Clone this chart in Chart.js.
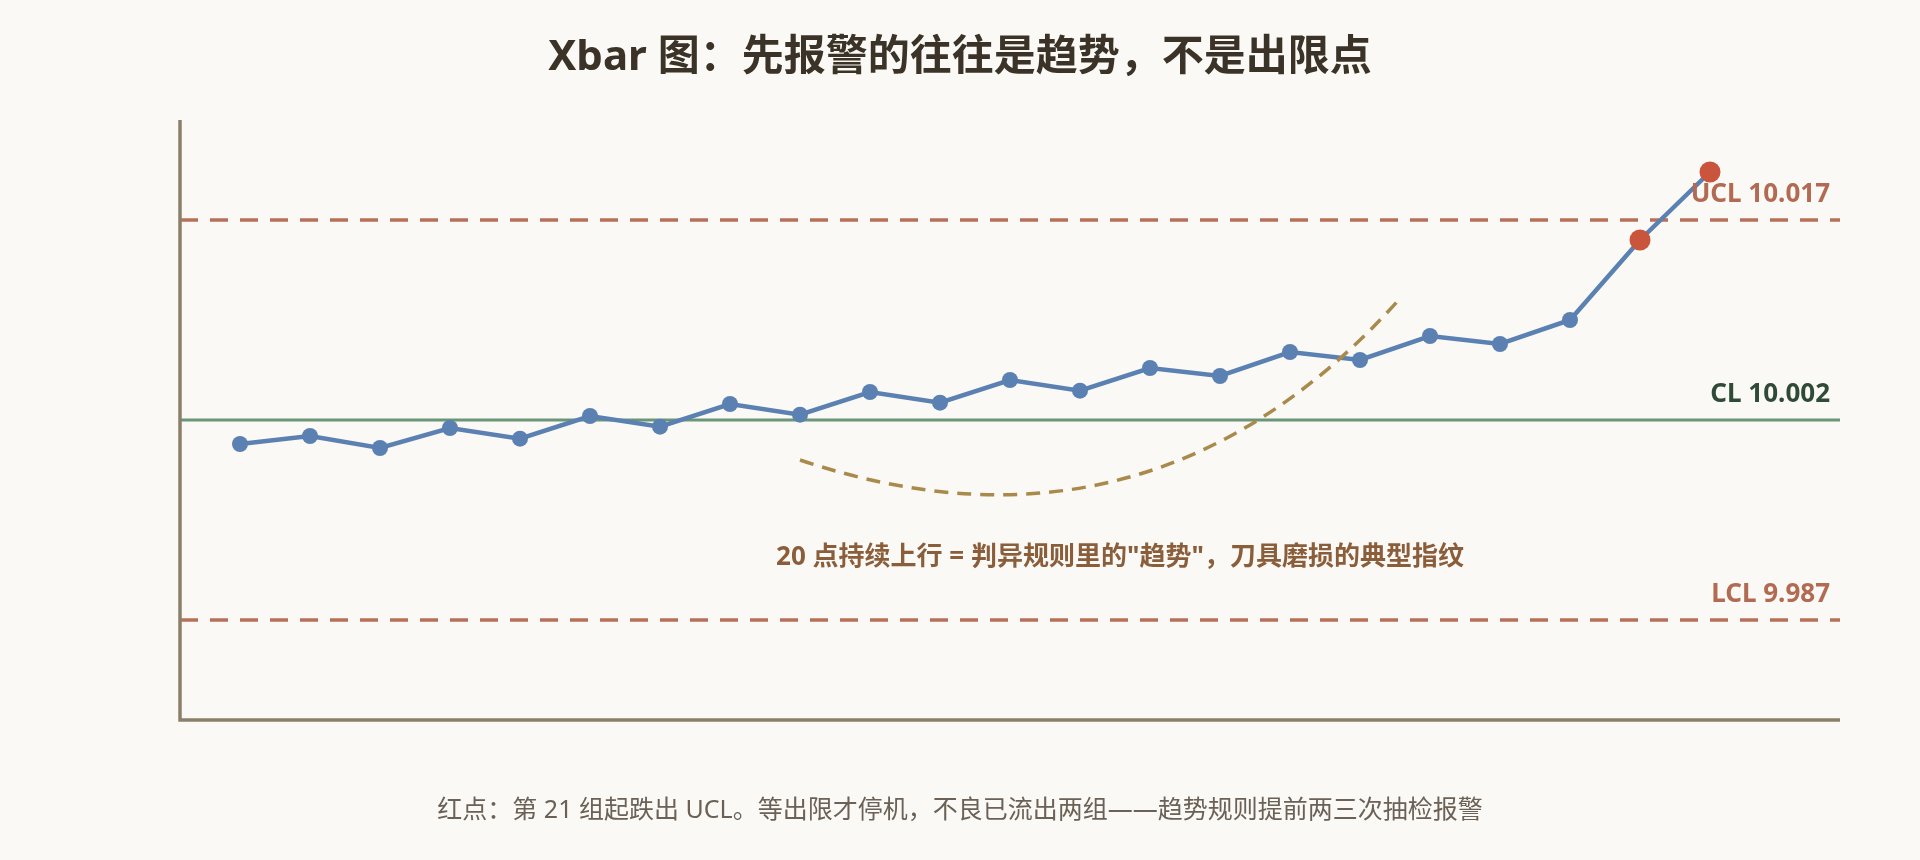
<!DOCTYPE html>
<html>
<head>
<meta charset="utf-8">
<script src="https://cdn.jsdelivr.net/npm/chart.js@4/dist/chart.umd.min.js"></script>
<style>
  html, body { margin: 0; padding: 0; background: #faf9f5; }
  #wrap { width: 1920px; height: 860px; position: relative; }
</style>
</head>
<body>
<div id="wrap"><canvas id="c"></canvas></div>
<script>
// ---- data ----
const groups = [1, 2, 3, 4, 5, 6, 7, 8, 9, 10, 11, 12, 13, 14, 15, 16, 17, 18, 19, 20, 21, 22];
const xbarValues = [10.0002, 10.0008, 9.9999, 10.0014, 10.0006, 10.0023, 10.0015, 10.0032, 10.0024, 10.0041, 10.0033,
                    10.0050, 10.0042, 10.0059, 10.0053, 10.0071, 10.0065, 10.0083, 10.0077, 10.0095, 10.0155, 10.0206];
const alarmGroups = [21, 22];
const UCL = 10.017;
const CL = 10.002;
const LCL = 9.987;
const limitLabels = ['UCL 10.017', 'CL 10.002', 'LCL 9.987'];
const trendCurveX = [9, 14, 17.57];          // start, control, end (group units)
const trendCurveY = [9.999, 9.9902, 10.0111]; // start, control, end (value units)
const titleText = 'Xbar 图：先报警的往往是趋势，不是出限点';
const noteText = '20 点持续上行 = 判异规则里的"趋势"，刀具磨损的典型指纹';
const captionText = '红点：第 21 组起跌出 UCL。等出限才停机，不良已流出两组——趋势规则提前两三次抽检报警';

const points = groups.map((g, i) => ({ x: g, y: xbarValues[i] }));
const isAlarm = (ctx) => alarmGroups.includes(groups[ctx.dataIndex]);

const FONT = '"Noto Sans", "Noto Sans CJK SC", sans-serif';

const decor = {
  id: 'decor',
  beforeDatasetsDraw(chart) {
    const { ctx, chartArea: a, scales: { y } } = chart;
    ctx.save();
    const lines = [
      { v: UCL, color: '#b8705a', dash: [18, 12], w: 3.5 },
      { v: CL, color: '#6a9677', dash: [], w: 3 },
      { v: LCL, color: '#b8705a', dash: [18, 12], w: 3.5 },
    ];
    lines.forEach(l => {
      const py = y.getPixelForValue(l.v);
      ctx.beginPath();
      ctx.setLineDash(l.dash);
      ctx.lineWidth = l.w;
      ctx.strokeStyle = l.color;
      ctx.moveTo(a.left, py);
      ctx.lineTo(a.right, py);
      ctx.stroke();
    });
    ctx.setLineDash([]);
    ctx.strokeStyle = '#8a7f6b';
    ctx.lineWidth = 3.5;
    ctx.beginPath();
    ctx.moveTo(a.left, a.top);
    ctx.lineTo(a.left, a.bottom);
    ctx.lineTo(a.right, a.bottom);
    ctx.stroke();
    ctx.restore();
  },
  afterDatasetsDraw(chart) {
    const { ctx, chartArea: a, scales: { x, y } } = chart;
    ctx.save();
    const px = trendCurveX.map(v => x.getPixelForValue(v));
    const py = trendCurveY.map(v => y.getPixelForValue(v));
    ctx.beginPath();
    ctx.setLineDash([14, 9]);
    ctx.lineWidth = 3.5;
    ctx.strokeStyle = '#a98a4b';
    ctx.moveTo(px[0], py[0]);
    ctx.quadraticCurveTo(px[1], py[1], px[2], py[2]);
    ctx.stroke();
    ctx.setLineDash([]);
    ctx.font = 'bold 26px ' + FONT;
    ctx.textAlign = 'right';
    ctx.textBaseline = 'alphabetic';
    const vals = [UCL, CL, LCL];
    const cols = ['#b26a52', '#2f4b37', '#b26a52'];
    vals.forEach((v, i) => {
      ctx.fillStyle = cols[i];
      ctx.fillText(limitLabels[i], a.right - 10, y.getPixelForValue(v) - 18);
    });
    ctx.font = 'bold 26px ' + FONT;
    ctx.textAlign = 'center';
    ctx.textBaseline = 'middle';
    ctx.fillStyle = '#8b5e3b';
    ctx.fillText(noteText, 1120, 558);
    ctx.font = 'bold 42px ' + FONT;
    ctx.fillStyle = '#3b3327';
    ctx.fillText(titleText, chart.width / 2, 58);
    ctx.font = '25px ' + FONT;
    ctx.fillStyle = '#6b6156';
    ctx.fillText(captionText, chart.width / 2, 811);
    ctx.restore();
  }
};

new Chart(document.getElementById('c'), {
  type: 'line',
  data: {
    datasets: [{
      label: 'Xbar',
      data: points,
      borderColor: '#5b80b2',
      borderWidth: 4.5,
      tension: 0,
      pointRadius: (ctx) => isAlarm(ctx) ? 10.5 : 8,
      pointHoverRadius: (ctx) => isAlarm(ctx) ? 10.5 : 8,
      pointBackgroundColor: (ctx) => isAlarm(ctx) ? '#c9553c' : '#5b80b2',
      pointBorderWidth: 0,
      fill: false,
      clip: false
    }]
  },
  options: {
    responsive: true,
    maintainAspectRatio: false,
    animation: false,
    devicePixelRatio: 1,
    layout: { padding: { left: 180, top: 120, right: 80, bottom: 140 } },
    plugins: { legend: { display: false }, tooltip: { enabled: false }, title: { display: false } },
    scales: {
      x: { type: 'linear', display: false, min: 1 - 6 / 7, max: 23 + 6 / 7 },
      y: { type: 'linear', display: false, min: 9.9795, max: 10.0245 }
    }
  },
  plugins: [decor]
});
</script>
</body>
</html>
